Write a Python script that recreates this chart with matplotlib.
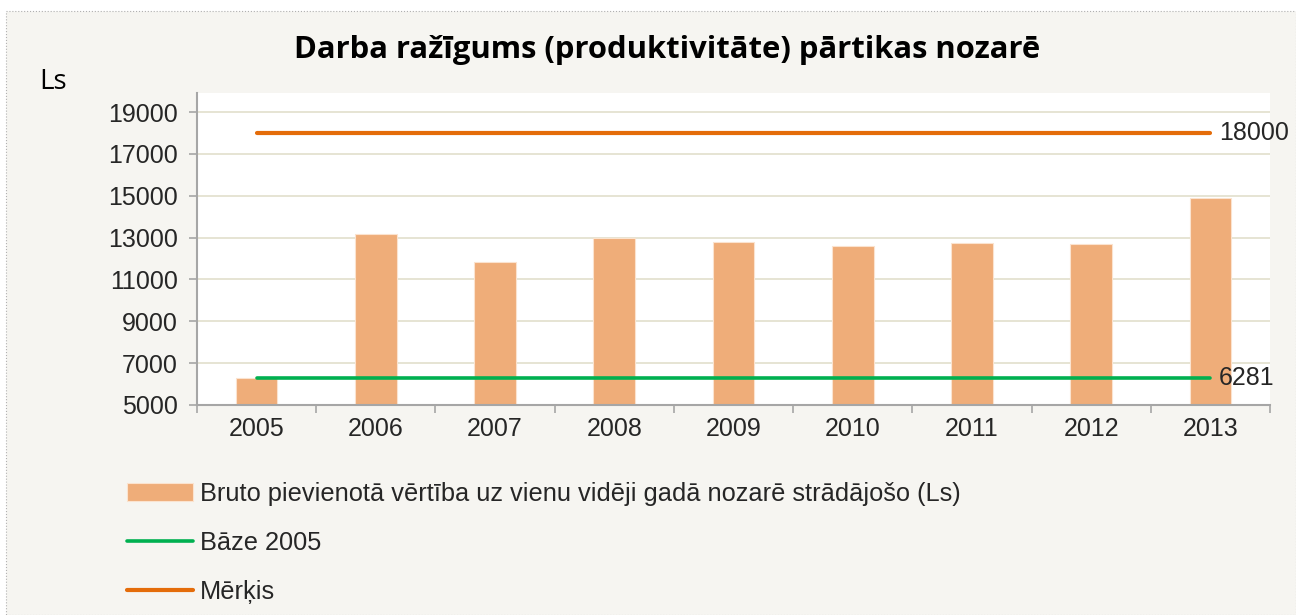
import matplotlib.pyplot as plt
from matplotlib.patches import Rectangle
import numpy as np

years = ['2005', '2006', '2007', '2008', '2009', '2010', '2011', '2012', '2013']
productivity = [6281, 13180, 11840, 12990, 12810, 12620, 12750, 12690, 14900]
base_2005 = 6281
target = 18000
yticks = [5000, 7000, 9000, 11000, 13000, 15000, 17000, 19000]

bar_label = 'Bruto pievienotā vērtība uz vienu vidēji gadā nozarē strādājošo (Ls)'
base_label = 'Bāze 2005'
target_label = 'Mērķis'
title = 'Darba ražīgums (produktivitāte) pārtikas nozarē'

bg = '#f6f5f1'
bar_color = '#efad79'
green = '#00b050'
orange = '#e46c0a'
grid_color = '#e2dfcc'
axis_gray = '#a6a6a6'
text_color = '#262626'

fig = plt.figure(figsize=(12.96, 6.15), dpi=100)
fig.patch.set_facecolor('white')
fig.patches.append(Rectangle((0.005, 0.0), 0.995, 0.982, transform=fig.transFigure,
                             facecolor=bg, edgecolor='#b0b0b0', linestyle=':',
                             linewidth=0.8, zorder=-1))

ax = fig.add_axes([0.152, 0.3415, 0.828, 0.507])
ax.set_facecolor('white')

x = np.arange(len(years))
bars = ax.bar(x, productivity, width=0.35, color=bar_color, edgecolor='#fbe3cf',
              linewidth=0.8, zorder=2)
base_line, = ax.plot([x[0], x[-1]], [base_2005, base_2005], color=green,
                     linewidth=2.6, solid_capstyle='round', zorder=3)
target_line, = ax.plot([x[0], x[-1]], [target, target], color=orange,
                       linewidth=3.0, solid_capstyle='round', zorder=3)

ax.text(x[-1] + 0.07, base_2005, str(base_2005), fontsize=18, color=text_color,
        va='center', ha='left', family='Liberation Sans', clip_on=False)
ax.text(x[-1] + 0.07, target, str(target), fontsize=18, color=text_color,
        va='center', ha='left', family='Liberation Sans', clip_on=False)

ax.set_xlim(-0.5, len(years) - 0.5)
ax.set_ylim(5000, 19900)
ax.set_yticks(yticks)
ax.set_yticklabels([str(v) for v in yticks], family='Liberation Sans', fontsize=18,
                   color=text_color)
ax.set_xticks(x)
ax.set_xticklabels(years, family='Liberation Sans', fontsize=18, color=text_color)
ax.set_xticks(np.arange(len(years) + 1) - 0.5, minor=True)
ax.tick_params(axis='x', which='major', length=0, pad=9)
ax.tick_params(axis='x', which='minor', length=6, color=axis_gray, width=1.2,
               direction='out')
ax.tick_params(axis='y', length=6, color=axis_gray, width=1.2, pad=8)

ax.grid(axis='y', color=grid_color, linewidth=1.2, zorder=0)
ax.set_axisbelow(True)
for side in ['top', 'right']:
    ax.spines[side].set_visible(False)
for side in ['left', 'bottom']:
    ax.spines[side].set_color(axis_gray)
    ax.spines[side].set_linewidth(1.5)

fig.text(0.515, 0.918, title, ha='center', va='center', fontsize=22.3,
         fontweight='bold', family='Open Sans', color='black')
fig.text(0.030, 0.866, 'Ls', ha='left', va='center', fontsize=20,
         family='Open Sans', color='black')

leg = fig.legend([bars, base_line, target_line], [bar_label, base_label, target_label],
                 loc='upper left', bbox_to_anchor=(0.080, 0.253),
                 frameon=False, handlelength=2.6, handleheight=0.7,
                 handletextpad=0.27, labelspacing=0.97,
                 prop={'family': 'Liberation Sans', 'size': 18.3})
for t in leg.get_texts():
    t.set_color(text_color)

plt.savefig('out.png', dpi=100, facecolor=fig.get_facecolor())
